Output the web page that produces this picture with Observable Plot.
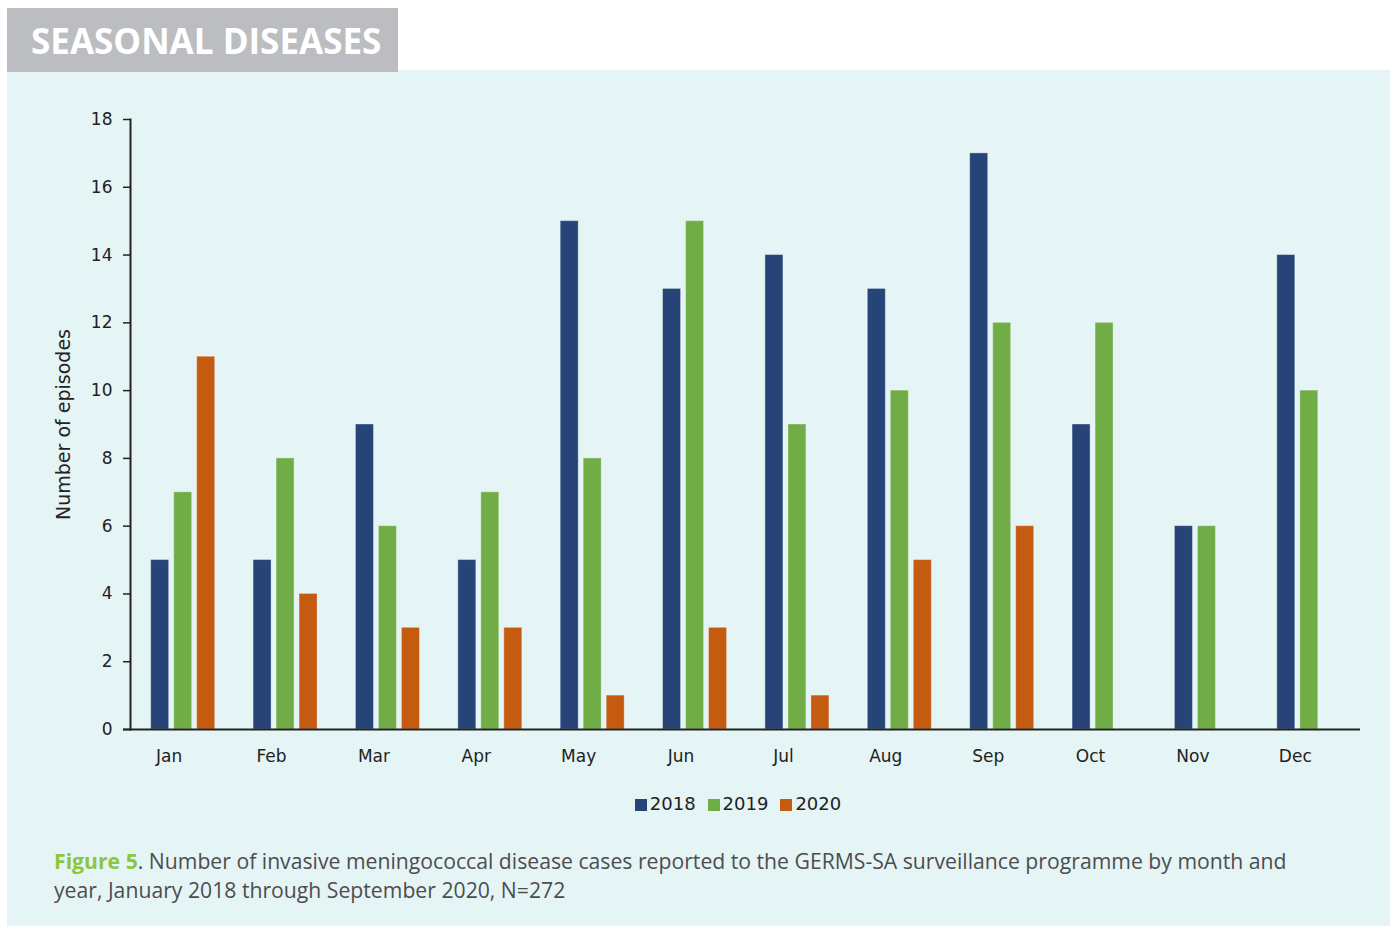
<!DOCTYPE html>
<html>
<head>
<meta charset="utf-8">
<script src="https://cdn.jsdelivr.net/npm/d3@7"></script>
<script src="https://cdn.jsdelivr.net/npm/@observablehq/plot@0.6"></script>
<style>
  html, body { margin: 0; padding: 0; background: #ffffff; width: 1390px; height: 926px; overflow: hidden; }
  #header { position: absolute; left: 7px; top: 8px; width: 391px; height: 64px; background: #bcbdc0; z-index: 2;
    color: #ffffff; font-family: "Open Sans", sans-serif; font-weight: 700; font-size: 35px; line-height: 66px;
    padding-left: 24px; box-sizing: border-box; letter-spacing: 0px; }
  #panel { position: absolute; left: 7px; top: 70px; width: 1383px; height: 856px; background: #e5f4f5; z-index: 1; }
  #chart { position: absolute; left: 0; top: 70px; z-index: 3; }
  #legend { position: absolute; left: 0; top: 793px; width: 1476px; text-align: center; z-index: 3;
    font-family: "DejaVu Sans", sans-serif; font-size: 18px; color: #222; }
  #legend span.item { margin: 0 6px; }
  #legend span.sw { display: inline-block; width: 12px; height: 12px; margin-right: 3px; vertical-align: -1px; }
  #caption { position: absolute; left: 54px; top: 846px; width: 1320px; z-index: 3; white-space: nowrap;
    font-family: "Open Sans", sans-serif; font-size: 21.2px; line-height: 29px; color: #4d4d4f; letter-spacing: 0px; }
  #caption .fig { color: #8cc63f; font-weight: 700; }
</style>
</head>
<body>
<div id="header">SEASONAL DISEASES</div>
<div id="panel"></div>
<div id="chart"></div>
<div id="legend"></div>
<div id="caption"><span class="fig">Figure 5</span><span>. Number of invasive meningococcal disease cases reported to the GERMS-SA surveillance programme by month and</span><br><span>year, January 2018 through September 2020, N=272</span></div>
<script>
const months = ["Jan","Feb","Mar","Apr","May","Jun","Jul","Aug","Sep","Oct","Nov","Dec"];
const years = ["2018","2019","2020"];
const colors = ["#264478","#70ad47","#c55a11"];
const v2018 = [5,5,9,5,15,13,14,13,17,9,6,14];
const v2019 = [7,8,6,7,8,15,9,10,12,12,6,10];
const v2020 = [11,4,3,3,1,3,1,5,6];
const yTicks = [0,2,4,6,8,10,12,14,16,18];

const series = [v2018, v2019, v2020];
const rows = series.map((vals, i) => vals.map((v, j) => ({month: months[j], year: years[i], value: v})));

const bandRange = [131.5, 1360];
const bw = (bandRange[1] - bandRange[0]) / months.length;
const inset = (bw - 18) / 2;
const offsets = [-23, 0, 23];

const font = "DejaVu Sans, sans-serif";

const chart = Plot.plot({
  width: 1390,
  height: 700,
  marginLeft: 130,
  marginRight: 30,
  marginTop: 49,
  marginBottom: 41,
  style: { fontFamily: font, fontSize: "16px", color: "#222", background: "transparent" },
  x: { domain: months, range: bandRange, padding: 0, round: false },
  y: { domain: [0, 18] },
  marks: [
    ...rows.map((d, i) => Plot.barY(d, {
      x: "month", y: "value", fill: colors[i], dx: offsets[i],
      insetLeft: inset, insetRight: inset,
      stroke: "#ffffff", strokeOpacity: 0.35, strokeWidth: 1
    })),
    Plot.axisY({ ticks: yTicks, tickSize: 7, tickPadding: 11, stroke: "#222", strokeWidth: 1.5, fontSize: 17, label: null }),
    Plot.text(["Number of episodes"], { frameAnchor: "left", textAnchor: "middle", rotate: -90, dx: -67, fontSize: 19, fill: "#222" }),
    Plot.axisX({ tickSize: 0, tickPadding: 20, label: null, fontSize: 17, dx: -14 }),
    Plot.ruleY([0], { stroke: "#222", strokeWidth: 1.8, insetLeft: -7 }),
    Plot.frame({ anchor: "left", stroke: "#222", strokeWidth: 2 })
  ]
});
document.getElementById("chart").appendChild(chart);

const legend = document.getElementById("legend");
years.forEach((y, i) => {
  const item = document.createElement("span");
  item.className = "item";
  item.innerHTML = `<span class="sw" style="background:${colors[i]}"></span>${y}`;
  legend.appendChild(item);
});
</script>
</body>
</html>
